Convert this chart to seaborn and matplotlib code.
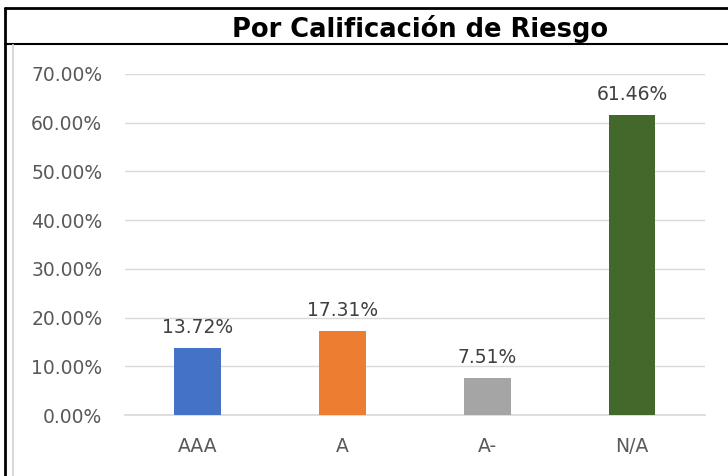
import matplotlib.pyplot as plt
import seaborn as sns
import pandas as pd
from matplotlib.lines import Line2D

# data
categorias = ["AAA", "A", "A-", "N/A"]
porcentajes = [13.72, 17.31, 7.51, 61.46]
colores = ["#4472C4", "#ED7D31", "#A5A5A5", "#43682B"]
y_ticks = [0, 10, 20, 30, 40, 50, 60, 70]

df = pd.DataFrame({"categoria": categorias, "pct": porcentajes})

sns.set_theme(style="white")
plt.rcParams["font.family"] = ["DejaVu Sans"]

fig = plt.figure(figsize=(7.28, 4.76), dpi=100)
ax = fig.add_axes([0.172, 0.128, 0.796, 0.717])

sns.barplot(
    data=df,
    x="categoria",
    y="pct",
    hue="categoria",
    palette=colores,
    saturation=1,
    width=0.32,
    linewidth=0,
    legend=False,
    ax=ax,
    zorder=3,
)

ax.set_ylim(0, 70)
ax.set_yticks(y_ticks)
ax.set_yticklabels([f"{v:.2f}%" for v in y_ticks])
ax.set_xlim(-0.5, 3.5)
ax.grid(axis="y", color="#D9D9D9", linewidth=1, zorder=0)
ax.set_xlabel("")
ax.set_ylabel("")
for s in ["top", "right", "left"]:
    ax.spines[s].set_visible(False)
ax.spines["bottom"].set_color("#D9D9D9")
ax.tick_params(axis="both", length=0, labelsize=13.5, labelcolor="#595959")
ax.tick_params(axis="y", pad=16.5)
ax.tick_params(axis="x", pad=16)

# value labels
for i, v in enumerate(porcentajes):
    ax.annotate(f"{v:.2f}%", (i, v), xytext=(0, 8), textcoords="offset points",
                ha="center", va="bottom", fontsize=13.5, color="#404040")

# title and frame lines
fig.text(0.577, 0.94, "Por Calificación de Riesgo", ha="center", va="center",
         fontsize=18.5, fontweight="bold", color="black")
fig.add_artist(Line2D([0.007, 1.0], [0.983, 0.983], color="black", lw=2))
fig.add_artist(Line2D([0.007, 0.007], [0.0, 0.983], color="black", lw=2))
fig.add_artist(Line2D([0.007, 1.0], [0.908, 0.908], color="black", lw=1.5))
fig.add_artist(Line2D([0.018, 0.018], [0.0, 0.906], color="#D9D9D9", lw=1.5))

fig.savefig("out.png", dpi=100)
